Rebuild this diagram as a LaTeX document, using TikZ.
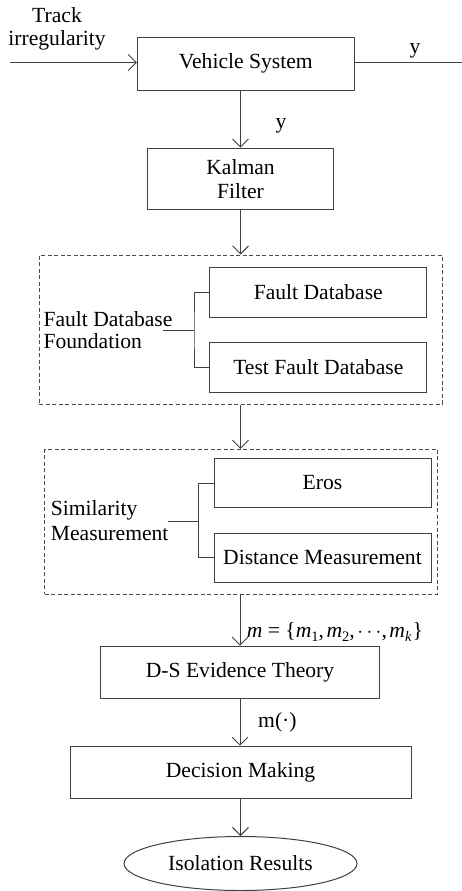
\documentclass[tikz,border=0pt]{standalone}
\usepackage{fontspec}
\setmainfont{Liberation Serif}
\usetikzlibrary{arrows.meta,shapes.geometric}
\newcommand{\subx}[1]{\raisebox{-0.22em}{\fontsize{14.5}{14.5}\selectfont #1}}
\begin{document}
\begin{tikzpicture}[x=1pt,y=-1pt, font=\fontsize{21.6}{24}\selectfont,
  box/.style={draw=black!75, line width=1pt, inner sep=0pt, align=center},
  dbox/.style={draw=black!70, line width=1pt, dash pattern=on 4pt off 2.5pt, inner sep=0pt},
  arr/.style={draw=black!75, line width=0.9pt, -{Straight Barb[length=8pt,width=16pt]}},
  ln/.style={draw=black!75, line width=0.9pt},
  lbl/.style={inner sep=0pt}]
\useasboundingbox (0,0) rectangle (462,891);

% top block
\node[box, minimum width=217pt, minimum height=52.7pt] (veh) at (245.8,63.7) {Vehicle System};
\node[box, minimum width=185.6pt, minimum height=61.6pt] (kal) at (240.5,179) {Kalman\\Filter};
\node[lbl, anchor=north, align=center, font=\fontsize{21.6}{23}\selectfont] (trk) at (57,7.3) {Track\\irregularity};
\coordinate (in) at (10,62.5);
\coordinate (out) at (462,62.5);
\draw[arr] (in) -- (in -| veh.west);
\draw[ln] (veh.east |- out) -- (out);
\node[lbl, anchor=base] (y1) at (415,53) {y};
\draw[arr] (kal.north |- veh.south) -- (kal.north);
\node[lbl, anchor=base] (y2) at (281,128) {y};

% fault database foundation
\node[dbox, minimum width=403pt, minimum height=149pt] (fdbf) at (240.8,329.5) {};
\node[box, minimum width=216.7pt, minimum height=49.6pt] (fdb) at (318.3,292.5) {Fault Database};
\node[box, minimum width=216.7pt, minimum height=49.6pt] (tfdb) at (318.3,367.5) {Test Fault Database};
\node[lbl, anchor=north west, align=left, font=\fontsize{21.6}{22}\selectfont] (fdbl) at (43.3,311.2) {Fault Database\\Foundation};
\coordinate (b1) at (194,330.7);
\coordinate (s1) at (163.3,330.7);
\draw[ln] (fdb.west) -| (b1) |- (tfdb.west);
\draw[ln] (s1) -- (b1);
\draw[arr] (kal.south) -- (kal.south |- fdbf.north);

% similarity measurement
\node[dbox, minimum width=392.7pt, minimum height=144.7pt] (simf) at (241.3,521.7) {};
\node[box, minimum width=217pt, minimum height=49.4pt] (eros) at (322.5,483) {Eros};
\node[box, minimum width=217pt, minimum height=49pt] (dist) at (322.5,557.8) {Distance Measurement};
\node[lbl, anchor=north west, align=left, font=\fontsize{21.6}{25}\selectfont] (siml) at (50.7,500.3) {Similarity\\Measurement};
\coordinate (b2) at (198.7,521);
\coordinate (s2) at (167.7,521);
\draw[ln] (eros.west) -| (b2) |- (dist.west);
\draw[ln] (s2) -- (b2);
\draw[arr] (fdbf.south -| kal.south) -- (simf.north -| kal.south);

% D-S and decision
\node[box, minimum width=278.3pt, minimum height=52.7pt] (ds) at (240,672.5) {D-S Evidence Theory};
\node[box, minimum width=341pt, minimum height=52pt] (dm) at (240.5,772.2) {Decision Making};
\node[box, ellipse, minimum width=233pt, minimum height=54pt] (iso) at (240.5,863.5) {Isolation Results};
\draw[arr] (simf.south -| ds.north) -- (ds.north);
\node[lbl, anchor=base west] (mset) at (246.7,637) {\textit{m} = \{\textit{m}\subx{1},\hspace{2.5pt}\textit{m}\subx{2},\hspace{2.5pt}$\cdots$,\hspace{2.5pt}\textit{m}\subx{\textit{k}}\hspace{1pt}\}};
\draw[arr] (ds.south) -- (ds.south |- dm.north);
\node[lbl, anchor=base west] (mdot) at (258,727) {m(·)};
\draw[arr] (dm.south) -- (iso.north);
\end{tikzpicture}
\end{document}
